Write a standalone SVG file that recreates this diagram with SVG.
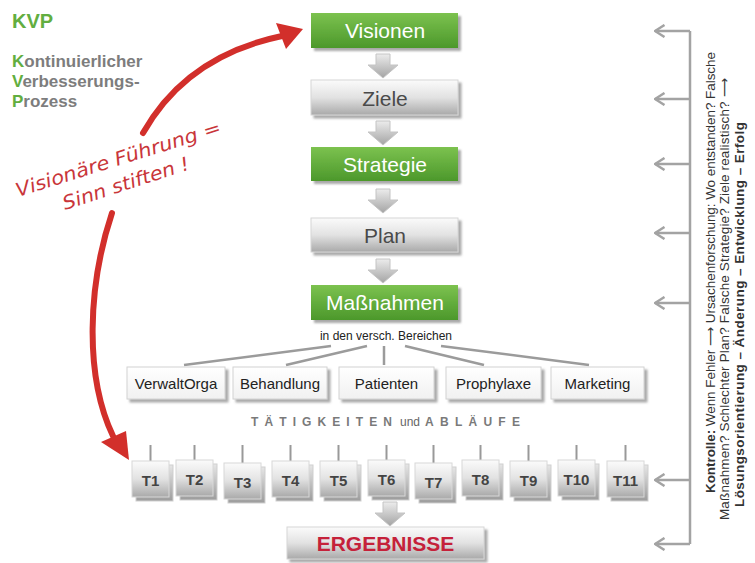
<svg xmlns="http://www.w3.org/2000/svg" width="755" height="563" viewBox="0 0 755 563">
<defs>
<linearGradient id="green" x1="0" y1="0" x2="0" y2="1">
<stop offset="0" stop-color="#7cc24f"/>
<stop offset="1" stop-color="#4c982b"/>
</linearGradient>
<linearGradient id="silver" x1="0" y1="0" x2="0" y2="1">
<stop offset="0" stop-color="#fbfbfb"/>
<stop offset="0.5" stop-color="#e2e2e2"/>
<stop offset="1" stop-color="#a9a9a9"/>
</linearGradient>
<linearGradient id="silverDark" x1="0" y1="0" x2="0" y2="1">
<stop offset="0" stop-color="#e6e6e6"/>
<stop offset="1" stop-color="#9c9c9c"/>
</linearGradient>
<linearGradient id="white" x1="0" y1="0" x2="0" y2="1">
<stop offset="0" stop-color="#ffffff"/>
<stop offset="1" stop-color="#f1f1f1"/>
</linearGradient>
<linearGradient id="arr" x1="0" y1="0" x2="0" y2="1">
<stop offset="0" stop-color="#ececec"/>
<stop offset="1" stop-color="#a4a4a4"/>
</linearGradient>
<filter id="sh" x="-10%" y="-20%" width="130%" height="160%">
<feDropShadow dx="3" dy="3" stdDeviation="1.2" flood-color="#6f6f6f" flood-opacity="0.6"/>
</filter>
<marker id="chev" viewBox="0 0 12 14" refX="10.5" refY="7" markerWidth="12" markerHeight="14" markerUnits="userSpaceOnUse" orient="auto">
<path d="M1,1 L10.5,7 L1,13" fill="none" stroke="#a3a3a3" stroke-width="2.5"/>
</marker>
<path id="blockArrow" d="M-7,0 H7 V11 H15 L0,24 L-15,11 H-7 Z"/>
</defs>
<style>
.txt{font-family:"Liberation Sans",Arial,sans-serif}
.green{fill:url(#green);filter:url(#sh)}
.silver{fill:url(#silver);stroke:#d6d6d6;stroke-width:1;filter:url(#sh)}
.cat{fill:url(#white);stroke:#d2d2d2;stroke-width:1;filter:url(#sh)}
.main{font-family:"Liberation Sans",Arial,sans-serif;font-size:21px;text-anchor:middle}
.wt{fill:#ffffff}
.gt{fill:#4a4a4a}
.catt{font-family:"Liberation Sans",Arial,sans-serif;font-size:15px;text-anchor:middle;fill:#222}
.tb{fill:url(#silverDark);stroke:#cfcfcf;stroke-width:1}
.tf{fill:url(#silver);stroke:#d8d8d8;stroke-width:1}
.tt{font-family:"Liberation Sans",Arial,sans-serif;font-size:15px;font-weight:bold;text-anchor:middle;fill:#444}
.conn{stroke:#9b9b9b;stroke-width:2.5;fill:none}
.stem{stroke:#999;stroke-width:2;fill:none}
.barr{fill:url(#arr);stroke:#c4c4c4;stroke-width:1}
.fb{stroke:#a3a3a3;stroke-width:2.5;fill:none}
.red{fill:#d22f2b}
.redline{stroke:#d22f2b;fill:none;stroke-linecap:round}
.hand{font-family:"DejaVu Sans","Liberation Sans",sans-serif;font-style:italic;font-size:19px;fill:#c9363a}
.kvpg{fill:#62ae40}
.kvpt{fill:#7d7d7d}
.side{font-family:"Liberation Sans","DejaVu Sans",Arial,sans-serif;font-size:13.5px;fill:#333}
</style>

<g id="kvp-title" class="txt" font-weight="bold">
<text x="12" y="28" font-size="20" class="kvpg">KVP</text>
<text x="12" y="67" font-size="17"><tspan class="kvpg">K</tspan><tspan class="kvpt">ontinuierlicher</tspan></text>
<text x="12" y="87" font-size="17"><tspan class="kvpg">V</tspan><tspan class="kvpt">erbesserungs-</tspan></text>
<text x="12" y="107" font-size="17"><tspan class="kvpg">P</tspan><tspan class="kvpt">rozess</tspan></text>
</g>

<g id="connectors">
<!-- main flow block arrows -->
<use href="#blockArrow" class="barr" transform="translate(383,54)"/>
<use href="#blockArrow" class="barr" transform="translate(383,121)"/>
<use href="#blockArrow" class="barr" transform="translate(383,189)"/>
<use href="#blockArrow" class="barr" transform="translate(383,259)"/>
<use href="#blockArrow" class="barr" transform="translate(390,502)"/>
<!-- lines to areas -->
<line class="conn" x1="331" y1="346" x2="184" y2="365"/>
<line class="conn" x1="367" y1="346" x2="286" y2="365"/>
<line class="conn" x1="384" y1="346" x2="384" y2="365"/>
<line class="conn" x1="405" y1="346" x2="484" y2="365"/>
<line class="conn" x1="441" y1="346" x2="589" y2="365"/>
<!-- stems to tasks -->
<path class="stem" d="M150.5,445V461 M194.5,445V460 M242.5,445V463 M290.5,445V461 M338.5,445V461 M386.5,445V460 M433.5,445V463 M480.5,445V460 M528.5,445V461 M576.5,445V460 M625.5,445V461"/>
<!-- feedback bracket -->
<line class="fb" x1="690" y1="31" x2="690" y2="544"/>
<line class="fb" x1="690" y1="31" x2="655" y2="31" marker-end="url(#chev)"/>
<line class="fb" x1="690" y1="99" x2="655" y2="99" marker-end="url(#chev)"/>
<line class="fb" x1="690" y1="164" x2="655" y2="164" marker-end="url(#chev)"/>
<line class="fb" x1="690" y1="233" x2="655" y2="233" marker-end="url(#chev)"/>
<line class="fb" x1="690" y1="303" x2="655" y2="303" marker-end="url(#chev)"/>
<line class="fb" x1="690" y1="480" x2="655" y2="480" marker-end="url(#chev)"/>
<line class="fb" x1="690" y1="544" x2="655" y2="544" marker-end="url(#chev)"/>
<!-- red curved arrows -->
<path class="redline" stroke-width="6" d="M143,133 C170,85 215,50 282,36"/>
<polygon class="red" points="303,29 276,23 286,49"/>
<path class="redline" stroke-width="6" d="M112,213 C88,285 84,375 113,436"/>
<polygon class="red" points="129,460 101,442 126,431"/>
</g>

<g id="red-note">
<text class="hand" transform="translate(18,197) rotate(-17.4)" textLength="214" lengthAdjust="spacingAndGlyphs">Visionäre Führung =</text>
<text class="hand" transform="translate(65,210) rotate(-18)" textLength="132" lengthAdjust="spacingAndGlyphs">Sinn stiften !</text>
</g>

<g id="visionen"><rect class="green" x="311" y="13" width="147" height="35"/><text class="main wt" x="385" y="38">Visionen</text></g>
<g id="ziele"><rect class="silver" x="311" y="80" width="147" height="35"/><text class="main gt" x="385" y="105.5">Ziele</text></g>
<g id="strategie"><rect class="green" x="311" y="147" width="147" height="34"/><text class="main wt" x="385" y="171.5">Strategie</text></g>
<g id="plan"><rect class="silver" x="311" y="218" width="147" height="34"/><text class="main gt" x="385" y="242.5">Plan</text></g>
<g id="massnahmen"><rect class="green" x="311" y="285" width="147" height="35"/><text class="main wt" x="385" y="310">Maßnahmen</text></g>

<g id="bereiche-label"><text class="txt" x="386" y="340" font-size="12" text-anchor="middle" fill="#222">in den versch. Bereichen</text></g>

<g id="verwaltorga"><rect class="cat" x="127" y="367" width="98" height="32"/><text class="catt" x="176" y="389">VerwaltOrga</text></g>
<g id="behandlung"><rect class="cat" x="233" y="367" width="94" height="32"/><text class="catt" x="280" y="389">Behandlung</text></g>
<g id="patienten"><rect class="cat" x="339" y="367" width="95" height="32"/><text class="catt" x="386.5" y="389">Patienten</text></g>
<g id="prophylaxe"><rect class="cat" x="446" y="367" width="95" height="32"/><text class="catt" x="493.5" y="389">Prophylaxe</text></g>
<g id="marketing"><rect class="cat" x="551" y="367" width="93" height="32"/><text class="catt" x="597.5" y="389">Marketing</text></g>

<g id="taetigkeiten-label" class="txt" font-size="12" font-weight="bold" fill="#7a7a7a">
<text x="251" y="426" textLength="141" lengthAdjust="spacing">TÄTIGKEITEN</text>
<text x="400" y="426" font-weight="normal" fill="#666">und</text>
<text x="425" y="426" textLength="95" lengthAdjust="spacing">ABLÄUFE</text>
</g>

<g id="t1"><rect class="tb" x="136" y="465" width="37" height="36"/><rect class="tf" x="132" y="461" width="37" height="36"/><text class="tt" x="150.5" y="486">T1</text></g>
<g id="t2"><rect class="tb" x="180" y="464" width="37" height="36"/><rect class="tf" x="176" y="460" width="37" height="36"/><text class="tt" x="194.5" y="485">T2</text></g>
<g id="t3"><rect class="tb" x="228" y="467" width="37" height="36"/><rect class="tf" x="224" y="463" width="37" height="36"/><text class="tt" x="242.5" y="488">T3</text></g>
<g id="t4"><rect class="tb" x="276" y="465" width="37" height="36"/><rect class="tf" x="272" y="461" width="37" height="36"/><text class="tt" x="290.5" y="486">T4</text></g>
<g id="t5"><rect class="tb" x="324" y="465" width="37" height="36"/><rect class="tf" x="320" y="461" width="37" height="36"/><text class="tt" x="338.5" y="486">T5</text></g>
<g id="t6"><rect class="tb" x="372" y="464" width="37" height="36"/><rect class="tf" x="368" y="460" width="37" height="36"/><text class="tt" x="386.5" y="485">T6</text></g>
<g id="t7"><rect class="tb" x="419" y="467" width="37" height="36"/><rect class="tf" x="415" y="463" width="37" height="36"/><text class="tt" x="433.5" y="488">T7</text></g>
<g id="t8"><rect class="tb" x="466" y="464" width="37" height="36"/><rect class="tf" x="462" y="460" width="37" height="36"/><text class="tt" x="480.5" y="485">T8</text></g>
<g id="t9"><rect class="tb" x="514" y="465" width="37" height="36"/><rect class="tf" x="510" y="461" width="37" height="36"/><text class="tt" x="528.5" y="486">T9</text></g>
<g id="t10"><rect class="tb" x="562" y="464" width="37" height="36"/><rect class="tf" x="558" y="460" width="37" height="36"/><text class="tt" x="576.5" y="485">T10</text></g>
<g id="t11"><rect class="tb" x="611" y="465" width="37" height="36"/><rect class="tf" x="607" y="461" width="37" height="36"/><text class="tt" x="625.5" y="486">T11</text></g>

<g id="ergebnisse"><rect class="silver" x="287" y="527" width="197" height="32"/><text class="txt" x="385.5" y="551" font-size="21" font-weight="bold" text-anchor="middle" fill="#c5213a">ERGEBNISSE</text></g>

<g id="kontrolle-text" class="side">
<text transform="translate(715,493) rotate(-90)" textLength="441" lengthAdjust="spacing"><tspan font-weight="bold">Kontrolle:</tspan> Wenn Fehler ⟶ Ursachenforschung: Wo entstanden? Falsche</text>
<text transform="translate(729,520) rotate(-90)" textLength="442" lengthAdjust="spacing">Maßnahmen? Schlechter Plan? Falsche Strategie? Ziele realistisch? ⟶</text>
<text transform="translate(744,507) rotate(-90)" font-weight="bold" textLength="385" lengthAdjust="spacing">Lösungsorientierung – Änderung – Entwicklung – Erfolg</text>
</g>
</svg>
